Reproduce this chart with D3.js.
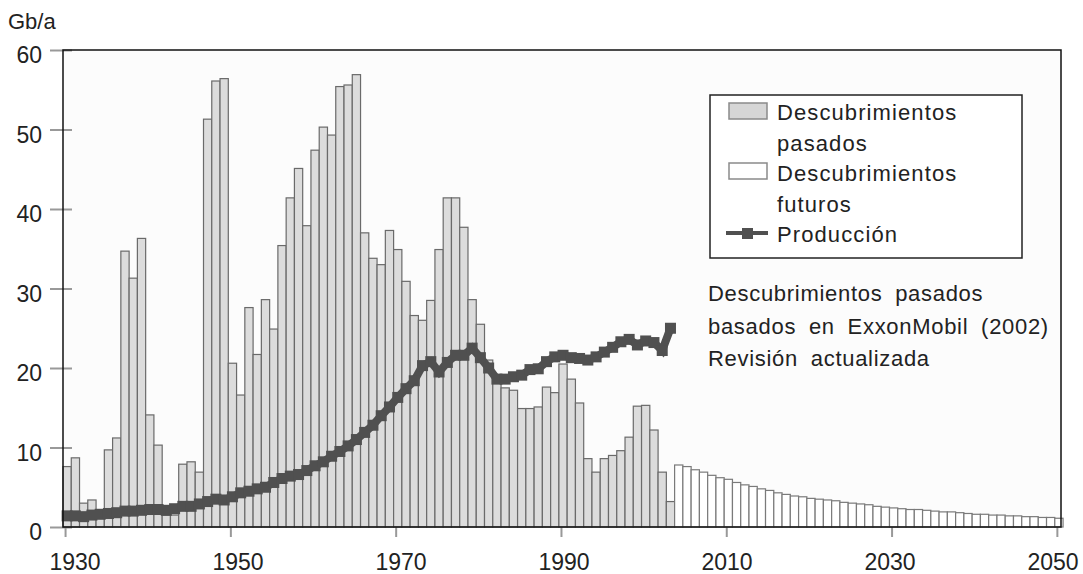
<!DOCTYPE html>
<html>
<head>
<meta charset="utf-8">
<script src="https://cdn.jsdelivr.net/npm/d3@7"></script>
<style>
  body { margin: 0; background: #ffffff; }
  svg text { font-family: "Liberation Sans", Arial, sans-serif; fill: #222; }
</style>
</head>
<body>
<svg id="chart" width="1083" height="574"></svg>
<script>
// descubrimientos pasados, 1930-2003 (Gb/a)
var pastStart = 1930;
var pastValues = [
    7.6, 8.7, 3.0, 3.4, 1.5, 9.7, 11.2, 34.7, 31.3, 36.3,
    14.1, 10.3, 1.5, 1.5, 7.9, 8.2, 6.9, 51.3, 56.1, 56.4,
    20.6, 16.6, 27.6, 21.7, 28.6, 24.9, 35.4, 41.4, 45.1, 37.9,
    47.4, 50.3, 49.3, 55.4, 55.6, 56.9, 37.0, 33.8, 33.0, 37.3,
    34.9, 30.9, 26.6, 26.0, 28.5, 34.9, 41.4, 41.4, 37.7, 28.6,
    25.5, 21.0, 19.0, 17.5, 17.2, 14.9, 14.9, 15.1, 17.6, 16.9,
    20.5, 18.6, 15.6, 8.6, 6.9, 8.6, 9.0, 9.6, 11.3, 15.2,
    15.3, 12.2, 6.9, 3.2
];

// descubrimientos futuros, 2004-2050
var futureStart = 2004;
var futureValues = [
    7.8, 7.6, 7.2, 6.9, 6.5, 6.2, 6.0, 5.6, 5.3, 5.1,
    4.8, 4.6, 4.3, 4.1, 3.9, 3.8, 3.6, 3.5, 3.4, 3.3,
    3.1, 3.0, 2.9, 2.8, 2.6, 2.5, 2.4, 2.3, 2.2, 2.2,
    2.1, 2.0, 1.9, 1.9, 1.8, 1.7, 1.6, 1.6, 1.5, 1.5,
    1.4, 1.4, 1.3, 1.3, 1.2, 1.2, 1.1
];

// produccion, 1930-2003
var prodStart = 1930;
var prodValues = [
    1.4, 1.4, 1.3, 1.5, 1.6, 1.7, 1.8, 2.0, 2.0, 2.1,
    2.2, 2.2, 2.1, 2.3, 2.6, 2.6, 2.9, 3.2, 3.5, 3.4,
    3.8, 4.3, 4.5, 4.8, 5.0, 5.6, 6.1, 6.4, 6.6, 7.1,
    7.7, 8.2, 8.9, 9.5, 10.2, 11.0, 11.9, 12.8, 14.0, 15.1,
    16.3, 17.4, 18.4, 20.3, 20.8, 19.5, 20.7, 21.6, 21.6, 22.5,
    21.3, 20.0, 18.6, 18.6, 18.9, 19.1, 19.8, 19.9, 20.8, 21.4,
    21.6, 21.3, 21.2, 21.0, 21.4, 22.0, 22.6, 23.3, 23.6, 22.9,
    23.4, 23.2, 22.2, 25.0
];

var xTicks = [1930, 1950, 1970, 1990, 2010, 2030, 2050];
var yTicks = [0, 10, 20, 30, 40, 50, 60];
var legendLabels = [['Descubrimientos', 'pasados'], ['Descubrimientos', 'futuros'], ['Producción']];
var noteLines = ['Descubrimientos pasados', 'basados en ExxonMobil (2002)', 'Revisión actualizada'];

var past = pastValues.map(function (v, i) { return { year: pastStart + i, value: v }; });
var future = futureValues.map(function (v, i) { return { year: futureStart + i, value: v }; });
var prod = prodValues.map(function (v, i) { return { year: prodStart + i, value: v }; });

var plot = { left: 63, right: 1061, top: 50, bottom: 527 };

var svg = d3.select('#chart');

var x = d3.scaleLinear().domain([1929.75, 2050.5]).range([plot.left, plot.right]);
// tick labels in the source sit slightly off their ticks
var xLabel = d3.scaleLinear().domain([1930, 2050]).range([75, 1053]);
var y = d3.scaleLinear().domain([0, 60]).range([plot.bottom, plot.top]);

svg.append('rect')
    .attr('x', plot.left)
    .attr('y', plot.top)
    .attr('width', plot.right - plot.left)
    .attr('height', plot.bottom - plot.top)
    .attr('fill', '#fcfcfc');

// y axis
var yAxis = svg.append('g')
    .attr('transform', 'translate(' + plot.left + ',0)')
    .call(d3.axisLeft(y).tickValues(yTicks).tickSize(0).tickPadding(21));
yAxis.select('.domain').remove();
yAxis.selectAll('.tick line')
    .attr('x1', -13)
    .attr('x2', 9)
    .attr('stroke', '#999')
    .attr('stroke-width', 2);
yAxis.selectAll('.tick text')
    .attr('font-size', 23)
    .attr('dy', '0.55em')
    .style('font-family', '"Liberation Sans", Arial, sans-serif')
    .attr('fill', '#222');

// x axis
var xAxis = svg.append('g')
    .attr('transform', 'translate(0,' + plot.bottom + ')')
    .call(d3.axisBottom(x).tickValues(xTicks).tickSize(10).tickFormat(''));
xAxis.select('.domain').remove();
xAxis.selectAll('.tick line').attr('stroke', '#999').attr('stroke-width', 2);

svg.append('g')
    .selectAll('text')
    .data(xTicks)
    .enter()
    .append('text')
    .attr('x', function (d) { return xLabel(d); })
    .attr('y', 570)
    .attr('text-anchor', 'middle')
    .attr('font-size', 23)
    .text(function (d) { return d; });

// bars
var bars = svg.append('g');
bars.selectAll('rect.past')
    .data(past)
    .enter()
    .append('rect')
    .attr('class', 'past')
    .attr('x', function (d) { return x(d.year - 0.25); })
    .attr('y', function (d) { return y(d.value); })
    .attr('width', function (d) { return x(d.year + 0.75) - x(d.year - 0.25); })
    .attr('height', function (d) { return y(0) - y(d.value); })
    .attr('fill', '#dcdcdc')
    .attr('stroke', '#6a6a6a')
    .attr('stroke-width', 1.2);

bars.selectAll('rect.future')
    .data(future)
    .enter()
    .append('rect')
    .attr('class', 'future')
    .attr('x', function (d) { return x(d.year - 0.25); })
    .attr('y', function (d) { return y(d.value); })
    .attr('width', function (d) { return x(d.year + 0.75) - x(d.year - 0.25); })
    .attr('height', function (d) { return y(0) - y(d.value); })
    .attr('fill', '#ffffff')
    .attr('stroke', '#7a7a7a')
    .attr('stroke-width', 1.2);

// production
var line = d3.line()
    .x(function (d) { return x(d.year + 0.25); })
    .y(function (d) { return y(d.value); });

svg.append('path')
    .datum(prod)
    .attr('d', line)
    .attr('fill', 'none')
    .attr('stroke', '#505050')
    .attr('stroke-width', 8);

svg.append('g')
    .selectAll('rect')
    .data(prod)
    .enter()
    .append('rect')
    .attr('x', function (d) { return x(d.year + 0.25) - 5.5; })
    .attr('y', function (d) { return y(d.value) - 5.5; })
    .attr('width', 11)
    .attr('height', 11)
    .attr('fill', '#505050');

// frame
svg.append('rect')
    .attr('x', plot.left)
    .attr('y', plot.top)
    .attr('width', plot.right - plot.left)
    .attr('height', plot.bottom - plot.top)
    .attr('fill', 'none')
    .attr('stroke', '#111')
    .attr('stroke-width', 1.5);

svg.append('text')
    .attr('x', 8)
    .attr('y', 29)
    .attr('font-size', 22)
    .text('Gb/a');

// legend
var legend = svg.append('g');
legend.append('rect')
    .attr('x', 710)
    .attr('y', 95)
    .attr('width', 312)
    .attr('height', 163)
    .attr('fill', '#ffffff')
    .attr('stroke', '#222')
    .attr('stroke-width', 1.5);

legend.append('rect')
    .attr('x', 729).attr('y', 103).attr('width', 38).attr('height', 16)
    .attr('fill', '#d6d6d6').attr('stroke', '#8a8a8a').attr('stroke-width', 1.5);
legend.append('rect')
    .attr('x', 729).attr('y', 163).attr('width', 38).attr('height', 16)
    .attr('fill', '#ffffff').attr('stroke', '#8a8a8a').attr('stroke-width', 1.5);
legend.append('line')
    .attr('x1', 726).attr('x2', 768).attr('y1', 233).attr('y2', 233)
    .attr('stroke', '#505050').attr('stroke-width', 4);
legend.append('rect')
    .attr('x', 742).attr('y', 228).attr('width', 11).attr('height', 11)
    .attr('fill', '#505050');

var legendLine = 0;
legendLabels.forEach(function (lines) {
    lines.forEach(function (t) {
        legend.append('text')
            .attr('x', 777)
            .attr('y', 120 + legendLine * 30.5)
            .attr('font-size', 22)
            .attr('letter-spacing', 1.1)
            .text(t);
        legendLine++;
    });
});

// note
svg.append('g')
    .selectAll('text')
    .data(noteLines)
    .enter()
    .append('text')
    .attr('x', 708)
    .attr('y', function (d, i) { return 301 + i * 32.5; })
    .attr('font-size', 22)
    .attr('letter-spacing', 0.7)
    .attr('word-spacing', 6)
    .text(function (d) { return d; });
</script>
</body>
</html>
